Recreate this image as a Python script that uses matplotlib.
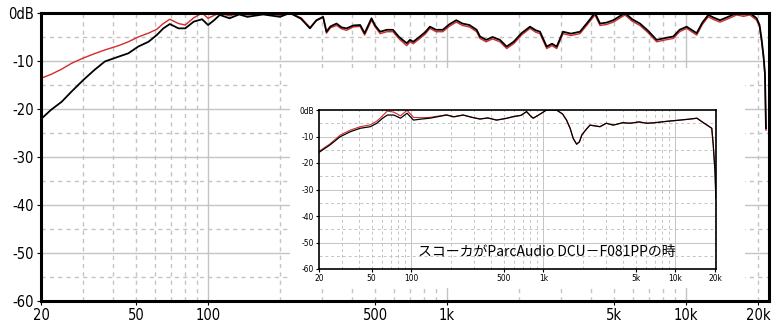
import matplotlib
matplotlib.use("Agg")
import matplotlib.pyplot as plt
from matplotlib.patches import Rectangle
from matplotlib.ticker import FixedLocator, NullFormatter

plt.rcParams["font.family"] = ["DejaVu Sans"]
plt.rcParams["font.stretch"] = "condensed"

# ── main chart: measured response (Hz, dB) ───────────────────────────────────
freq_main = [20, 22, 24.4, 26.8, 30, 33.4, 37, 42.2, 46.4, 51, 56.3, 61, 65, 69.2,
             75.2, 80.3, 87.1, 94.4, 100, 106, 112, 123, 135, 146, 170, 200, 220,
             245, 267, 284, 303, 313, 325, 345, 362, 380, 405, 433, 452, 483, 500,
             525, 560, 594, 630, 678, 700, 722, 770, 810, 848, 900, 960, 1020,
             1093, 1160, 1240, 1330, 1374, 1458, 1550, 1665, 1776, 1900, 2050,
             2224, 2350, 2449, 2612, 2750, 2876, 3056, 3300, 3598, 3838, 4160,
             4366, 4650, 4962, 5552, 5950, 6416, 6900, 7539, 8200, 8844, 9400,
             10060, 11080, 11700, 12390, 13100, 13870, 15000, 16290, 17400,
             18500, 19750, 20300, 20720, 21100, 21390, 21600]
black_main = [-22.1, -20.2, -18.5, -16.4, -14.0, -11.9, -10.1, -9.1, -8.4, -7.0,
              -6.0, -4.6, -3.2, -2.3, -3.2, -3.2, -1.8, -1.3, -2.5, -1.5, -0.4,
              -1.1, -0.3, -0.8, -0.3, -0.8, 0.0, -1.2, -3.2, -1.5, -0.8, -3.9,
              -2.8, -2.2, -3.0, -3.2, -2.6, -2.5, -4.2, -1.1, -2.6, -3.9, -3.5,
              -3.5, -5.0, -6.3, -5.6, -6.0, -4.9, -4.0, -2.85, -3.5, -3.5, -2.4,
              -1.5, -2.2, -2.5, -3.5, -4.9, -5.6, -5.0, -5.6, -7.0, -6.0, -4.2,
              -2.85, -3.6, -3.9, -7.0, -6.4, -7.0, -3.9, -4.3, -3.9, -2.2, 0.0,
              -2.2, -2.0, -1.5, 0.0, -1.3, -2.2, -3.6, -5.6, -5.2, -4.9, -3.5,
              -2.85, -4.2, -2.0, -0.4, -1.0, -1.5, -0.8, 0.0, -0.3, 0.0, -1.1,
              -2.5, -5.6, -9.0, -12.6, -24.0]
red_main = [-13.6, -12.8, -11.7, -10.5, -9.4, -8.5, -7.7, -6.8, -6.0, -5.0,
            -4.2, -3.4, -2.2, -1.3, -2.2, -2.5, -1.0, 0.0, -1.1, -0.5, 0.0,
            -0.6, 0.0, -0.4, 0.0, -0.5, 0.0, -1.0, -3.0, -1.6, -0.9, -4.2,
            -3.1, -2.6, -3.3, -3.6, -2.9, -2.8, -4.6, -1.5, -2.9, -4.3, -3.9,
            -3.9, -5.4, -6.8, -6.0, -6.4, -5.3, -4.4, -3.2, -3.9, -3.9, -2.8,
            -1.9, -2.6, -2.9, -3.9, -5.3, -6.0, -5.4, -6.0, -7.4, -6.4, -4.6,
            -3.2, -4.0, -4.3, -7.4, -6.8, -7.4, -4.3, -4.7, -4.3, -2.6, -0.4,
            -2.6, -2.4, -1.9, -0.4, -1.7, -2.6, -4.0, -6.0, -5.6, -5.3, -3.9,
            -3.2, -4.6, -2.4, -0.8, -1.4, -1.9, -1.2, -0.4, -0.7, -0.4, -1.5,
            -2.9, -6.0, -9.4, -13.0, -24.4]

# ── inset chart: squawker ParcAudio DCU-F081PP ───────────────────────────────
freq_inset = [20, 24.2, 28.9, 34.5, 41, 48.9, 54.9, 60, 65.8, 73.7, 82.9, 92.9,
              103.9, 120, 138, 160, 185, 210, 247, 290, 331, 380, 443, 520, 593,
              680, 747, 800, 839, 950, 1058, 1260, 1400, 1500, 1600, 1685, 1790,
              1880, 1960, 2100, 2260, 2690, 3000, 3390, 4000, 4560, 5300, 6100,
              7000, 8150, 9400, 10900, 12500, 14600, 16000, 17400, 18900, 19400,
              20000, 20300]
black_inset = [-16.0, -13.2, -10.1, -8.2, -6.9, -6.3, -5.0, -3.3, -1.9, -1.9,
               -3.1, -1.2, -3.8, -3.4, -3.1, -2.5, -1.9, -2.6, -1.9, -2.8, -3.4,
               -3.0, -3.8, -3.2, -2.5, -2.0, -0.6, -2.2, -3.1, -1.5, 0.0, 0.0,
               -1.5, -3.8, -7.0, -10.7, -12.9, -12.0, -9.4, -7.5, -5.7, -6.3,
               -5.0, -5.7, -4.8, -5.0, -4.5, -5.0, -4.8, -4.4, -4.1, -3.8, -3.5,
               -3.1, -4.5, -5.7, -6.9, -13.2, -23.3, -33.3]
red_inset = [-15.6, -12.8, -9.5, -7.6, -6.3, -5.6, -4.2, -2.4, -0.4, -0.8,
             -2.2, -0.1, -2.8, -2.9, -2.8, -2.3, -1.8, -2.5, -1.9, -2.8, -3.4,
             -3.0, -3.8, -3.2, -2.5, -2.0, -0.6, -2.2, -3.1, -1.5, 0.0, 0.0,
             -1.5, -3.8, -7.0, -10.7, -12.9, -12.0, -9.4, -7.5, -5.7, -6.3,
             -5.0, -5.7, -4.8, -5.0, -4.5, -5.0, -4.8, -4.4, -4.1, -3.8, -3.5,
             -3.1, -4.5, -5.7, -6.9, -13.2, -23.3, -33.3]

inset_note = "スコーカがParcAudio DCU－F081PPの時"

x_ticks = [20, 50, 100, 500, 1000, 5000, 10000, 20000]
x_labels = ["20", "50", "100", "500", "1k", "5k", "10k", "20k"]
y_ticks = [0, -10, -20, -30, -40, -50, -60]
y_labels = ["0dB", "-10", "-20", "-30", "-40", "-50", "-60"]

major_x = [100, 1000, 10000]
minor_x = [30, 40, 50, 60, 70, 80, 90, 200, 300, 400, 500, 600, 700, 800, 900,
           2000, 3000, 4000, 5000, 6000, 7000, 8000, 9000, 20000]
major_y = [-10, -20, -30, -40, -50]
minor_y = [-5, -15, -25, -35, -45, -55]

GRID = "#c4c4c4"


def style_axes(ax, xmax, lab_size, spine_w, grid_w):
    ax.set_xscale("log")
    ax.set_xlim(20, xmax)
    ax.set_ylim(-60, 0)
    for v in major_x:
        ax.axvline(v, color=GRID, lw=grid_w, zorder=0)
    for v in minor_x:
        ax.axvline(v, color=GRID, lw=grid_w, ls=(0, (3, 3)), zorder=0)
    for v in major_y:
        ax.axhline(v, color=GRID, lw=grid_w, zorder=0)
    for v in minor_y:
        ax.axhline(v, color=GRID, lw=grid_w, ls=(0, (3, 3)), zorder=0)
    ax.xaxis.set_major_locator(FixedLocator(x_ticks))
    ax.xaxis.set_minor_locator(FixedLocator([]))
    ax.xaxis.set_minor_formatter(NullFormatter())
    ax.set_xticklabels(x_labels)
    ax.set_yticks(y_ticks)
    ax.set_yticklabels(y_labels)
    ax.tick_params(labelsize=lab_size, length=3, width=0.8, pad=2)
    for s in ax.spines.values():
        s.set_linewidth(spine_w)
        s.set_color("black")


fig = plt.figure(figsize=(7.79, 3.29), dpi=100)

ax = fig.add_axes([41 / 779, 28 / 329, 728 / 779, 288 / 329])
style_axes(ax, 22240, 10.5, 2.2, 1.0)
ax.plot(freq_main, red_main, color="#d42a2a", lw=1.0, zorder=2)
ax.plot(freq_main, black_main, color="black", lw=1.3, zorder=3)

# white backing box behind the inset and its labels
fig.patches.append(Rectangle((290 / 779, 41 / 329), 455 / 779, 220 / 329,
                             transform=fig.transFigure, facecolor="white",
                             edgecolor="none", zorder=5))

axi = fig.add_axes([319 / 779, 60 / 329, 397 / 779, 159 / 329], zorder=6)
style_axes(axi, 20350, 6.0, 1.2, 0.7)
axi.tick_params(length=2, pad=1.5)
axi.plot(freq_inset, red_inset, color="#d42a2a", lw=0.8, zorder=2)
axi.plot(freq_inset, black_inset, color="black", lw=0.9, zorder=3)
axi.text(0.574, 0.107, inset_note, transform=axi.transAxes, ha="center",
         va="center", fontsize=10,
         family=["Noto Sans CJK JP", "DejaVu Sans"])

fig.savefig("out.png", dpi=100)
